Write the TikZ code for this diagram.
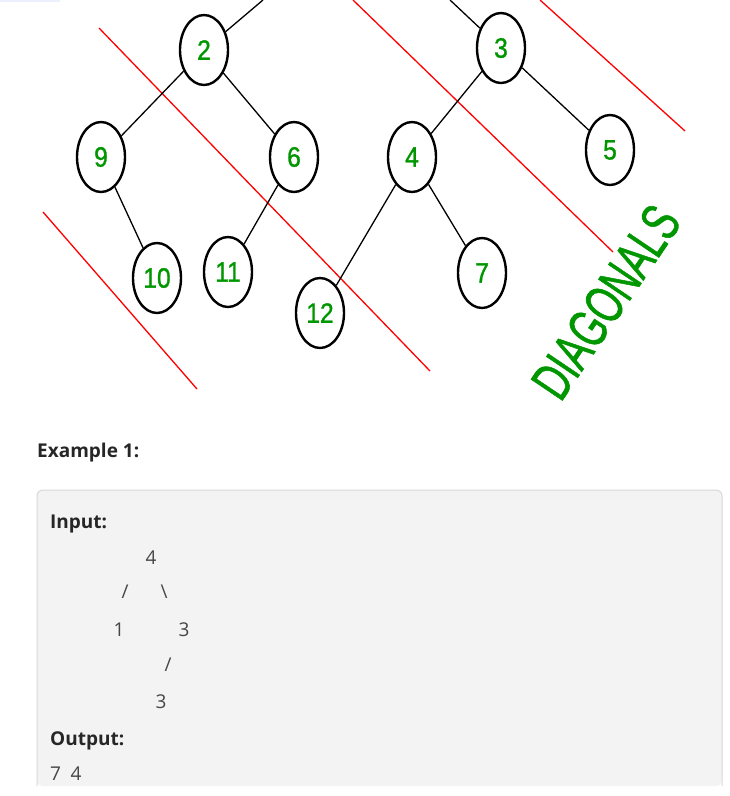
\documentclass[tikz,border=0pt]{standalone}
\usepackage{fontspec}
\setmainfont{Open Sans}
\newfontfamily\treefont[FakeBold=1.2]{Liberation Sans}
\usetikzlibrary{shapes.geometric}
\definecolor{numgreen}{RGB}{0,150,0}
\definecolor{boxfill}{RGB}{243,243,243}
\definecolor{boxline}{RGB}{216,216,216}
\definecolor{inktext}{RGB}{38,38,38}
\definecolor{codetext}{RGB}{70,70,70}
\definecolor{topbar}{RGB}{236,240,252}
\newcommand{\narrow}[1]{\scalebox{0.88}[1]{#1}}
\tikzstyle{vertex} = [ellipse, draw, line width=2.4pt, minimum width=48pt,
    minimum height=70pt, inner sep=0pt, text=numgreen,
    font=\treefont\fontsize{28}{28}\selectfont]
\tikzstyle{branch} = [draw, line width=1.3pt]
\tikzstyle{diag} = [draw, red, line width=1.3pt]
\tikzstyle{heading} = [anchor=base west, inner sep=0pt, text=inktext,
    font=\fontsize{19}{19}\selectfont\bfseries]
\tikzstyle{code} = [anchor=base, inner sep=0pt, text=codetext,
    font=\fontsize{19}{19}\selectfont]

\begin{document}
\begin{tikzpicture}[x=1pt, y=-1pt]
	\useasboundingbox (0,0) rectangle (730,796);
	\fill[topbar] (0,0) rectangle (60,2);

	% red diagonals
	\path [diag] (43,212) -- (197,389);
	\path [diag] (99,28) -- (430,371);
	\path [diag] (353,0) -- (613,252);
	\path [diag] (540,0) -- (685,131);

	% tree
	\coordinate (up2) at (263,0);
	\coordinate (up3) at (450,0);
	\node [vertex] (n2) at (204,50) {\narrow{2}};
	\node [vertex] (n3) at (501,48) {\narrow{3}};
	\node [vertex] (n9) at (101,157) {\narrow{9}};
	\node [vertex] (n6) at (294,157) {\narrow{6}};
	\node [vertex] (n4) at (412,157) {\narrow{4}};
	\node [vertex] (n5) at (610,150) {\narrow{5}};
	\node [vertex] (n10) at (157,278) {\narrow{10}};
	\node [vertex] (n11) at (228,272) {\narrow{11}};
	\node [vertex] (n12) at (320,313) {\narrow{12}};
	\node [vertex] (n7) at (482,273) {\narrow{7}};

	\path [branch] (n2) -- (up2);
	\path [branch] (n3) -- (up3);
	\path [branch] (n2) -- (n9);
	\path [branch] (n2) -- (n6);
	\path [branch] (n9) -- (n10);
	\path [branch] (n6) -- (n11);
	\path [branch] (n3) -- (n4);
	\path [branch] (n3) -- (n5);
	\path [branch] (n4) -- (n12);
	\path [branch] (n4) -- (n7);

	\node [rotate=56, text=numgreen, inner sep=0pt,
		font=\treefont\fontsize{55}{55}\selectfont] (title) at (606,302)
		{\scalebox{0.68}[1]{DIAGONALS}};

	% example
	\node [heading] (example) at (37,457) {Example 1:};
	\fill [boxfill, rounded corners=6pt] (37,786) -- (37,490) -- (722,490) -- (722,786) -- cycle;
	\draw [boxline, line width=1pt, rounded corners=6pt] (37,786) -- (37,490) -- (722,490) -- (722,786);
	\node [heading] (input) at (50,528) {Input:};
	\node [code] (c4) at (151,564) {4};
	\node [code] (cl) at (125,598) {/};
	\node [code] (cr) at (164,598) {\textbackslash};
	\node [code] (c1) at (119,636) {1};
	\node [code] (c3) at (184,636) {3};
	\node [code] (cs) at (168,671) {/};
	\node [code] (c3b) at (161,708) {3};
	\node [heading] (output) at (50,745) {Output:};
	\node [code, anchor=base west] (result) at (50,780) {7\enspace4};
\end{tikzpicture}
\end{document}
